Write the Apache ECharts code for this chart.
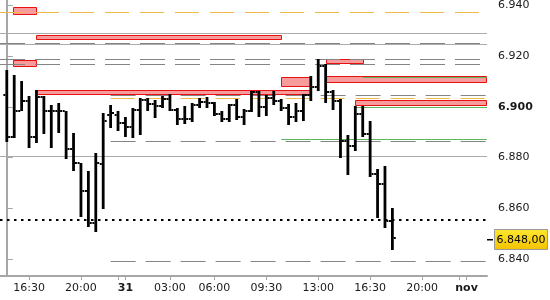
<!DOCTYPE html>
<html><head><meta charset="utf-8">
<script src="https://cdn.jsdelivr.net/npm/echarts@6/dist/echarts.min.js"></script>
<style>html,body{margin:0;padding:0;background:#fff}#c{width:550px;height:300px}</style>
</head><body><div id="c"></div>
<script>
// 30-minute bars
const times = ['15:00','15:30','16:00','16:30','17:00','17:30','18:00','18:30','19:00','19:30','20:00','20:30','21:00',
 '22:30','23:00','23:30','00:00','00:30','01:00','01:30','02:00','02:30','03:00','03:30','04:00','04:30','05:00','05:30',
 '06:00','06:30','07:00','07:30','08:00','08:30','09:00','09:30','10:00','10:30','11:00','11:30','12:00','12:30','13:00',
 '13:30','14:00','14:30','15:00','15:30','16:00','16:30','17:00','17:30','18:00'];
const open  = [6.9046,6.8882,6.8983,6.9023,6.8881,6.9039,6.8983,6.8983,6.8983,6.8833,6.8777,6.8669,6.8542,6.8774,6.8967,6.8970,6.8938,6.8921,6.8989,6.9026,6.9013,6.9004,6.9033,6.8989,6.8954,6.8951,6.9006,6.9019,6.9015,6.8971,6.8954,6.9006,6.8960,6.8983,6.9059,6.9000,6.9037,6.9023,6.8997,6.8960,6.8983,6.9048,6.9078,6.9161,6.9059,6.9023,6.8866,6.8846,6.8971,6.8892,6.8737,6.8694,6.8551];
const high  = [6.9144,6.9124,6.9101,6.9042,6.9065,6.9042,6.9006,6.9015,6.8983,6.8896,6.8779,6.8748,6.8817,6.8976,6.9006,6.8983,6.8960,6.8997,6.9037,6.9037,6.9026,6.9042,6.9052,6.8997,6.9002,6.9015,6.9037,6.9039,6.9019,6.8983,6.9013,6.9033,6.8993,6.9061,6.9061,6.9046,6.9061,6.9033,6.9013,6.9015,6.9052,6.9121,6.9190,6.9171,6.9065,6.9033,6.8888,6.9002,6.9002,6.8943,6.8757,6.8766,6.8600];
const low   = [6.8862,6.8878,6.8983,6.8838,6.8858,6.8892,6.8838,6.8897,6.8794,6.8748,6.8567,6.8525,6.8508,6.8596,6.8915,6.8905,6.8881,6.8878,6.8891,6.8984,6.8956,6.8997,6.8984,6.8930,6.8934,6.8941,6.8997,6.8997,6.8964,6.8941,6.8941,6.8947,6.8928,6.8980,6.8960,6.8964,6.9006,6.8984,6.8928,6.8941,6.8945,6.9023,6.9063,6.9017,6.8987,6.8800,6.8731,6.8826,6.8881,6.8724,6.8560,6.8523,6.8435];
const close = [6.8881,6.8983,6.9023,6.8881,6.9039,6.8983,6.8983,6.8983,6.8833,6.8777,6.8669,6.8542,6.8777,6.8945,6.8974,6.8938,6.8921,6.8989,6.9026,6.9013,6.9004,6.9033,6.8989,6.8954,6.8951,6.9006,6.9019,6.9015,6.8971,6.8954,6.9006,6.8960,6.8983,6.9059,6.9000,6.9037,6.9023,6.8997,6.8960,6.8983,6.9048,6.9078,6.9161,6.9059,6.9023,6.8866,6.8846,6.8971,6.8892,6.8737,6.8694,6.8551,6.8482];
const lastPrice = 6.848;
const lastPriceText = '6.848,00';

// x tick labels (bar index -> label)
const tickPos    = [3, 10, 16, 22, 28, 35, 42, 49, 56, 62];
const tickLabels = ['16:30','20:00','31','03:00','06:00','09:30','13:00','16:30','20:00','nov'];
const boldTicks  = ['31','nov'];
const extraTickPos = [15, 61];
const yTicks = [6.84, 6.86, 6.88, 6.90, 6.92, 6.94];

// levels: [fromIndex, toIndex, price]; 99 = to right edge, -9 = from left edge
const grayDashLevels   = [[-9,99,6.9254],[-9,99,6.9190],[-9,99,6.9171],[14,99,6.9045],[14,99,6.8864],[14,99,6.8392]];
const orangeDashLevels = [[-9,99,6.9376],[14,99,6.9034]];
const graySolidLevels  = [[-9,99,6.9292],[-9,99,6.9250],[-9,99,6.8805]];
const greenLevels      = [[48,99,6.9116],[47,99,6.8998],[37,99,6.8875]];
const dottedLevels     = [[-9,99,6.8553]];
// zones: [fromIndex, toIndex, top, bottom]
const zones = [[0.85,4.07,6.9393,6.9367],[4,37.1,6.9282,6.9269],[0.85,4.07,6.9185,6.9161],
  [43,48.17,6.9190,6.9173],[43,99,6.9121,6.9098],[37,41.16,6.9116,6.9082],[4,41.16,6.9068,6.9051],[47,99,6.9026,6.9006]];

const XMIN = -0.917, XMAX = 64.76, YMIN = 6.8333, YMAX = 6.94197;
const FONT = 'DejaVu Sans';

function clampX(px, cs){ return Math.max(cs.x, Math.min(cs.x + cs.width, px)); }

function lineSeries(data, style){
  return {
    type:'custom', data: data, silent:true, z: 3,
    renderItem: function(params, api){
      const cs = params.coordSys;
      const a = api.coord([api.value(0), api.value(2)]);
      const b = api.coord([api.value(1), api.value(2)]);
      const y = Math.round(a[1]) + (style.lineWidth % 2 ? 0.5 : 0);
      return {type:'line', shape:{x1:clampX(a[0],cs), y1:y, x2:clampX(b[0],cs), y2:y}, style: Object.assign({fill:null}, style)};
    }
  };
}

const zoneSeries = {
  type:'custom', data: zones, silent:true, z: 2,
  renderItem: function(params, api){
    const cs = params.coordSys;
    const a = api.coord([api.value(0), api.value(2)]);
    const b = api.coord([api.value(1), api.value(3)]);
    const x1 = Math.round(clampX(a[0],cs)) + 0.5, x2 = Math.round(clampX(b[0],cs)) - 0.5;
    const y1 = Math.round(a[1]) + 0.5, y2 = Math.round(b[1]) + 0.5;
    return {type:'rect', shape:{x:x1, y:y1, width:x2-x1, height:Math.max(2,y2-y1)},
      style:{fill:'#f79c9c', stroke:'#e81010', lineWidth:1}};
  }
};

const ohlcData = open.map((o,i)=>[i, o, high[i], low[i], close[i]]);
const ohlcSeries = {
  type:'custom', data: ohlcData, z: 5, silent:true,
  encode:{x:0, y:[1,2,3,4]},
  renderItem: function(params, api){
    const x = api.value(0);
    const pO = api.coord([x, api.value(1)]);
    const pH = api.coord([x, api.value(2)]);
    const pL = api.coord([x, api.value(3)]);
    const pC = api.coord([x, api.value(4)]);
    const cx = pH[0];
    const st = {fill:'#000'};
    return {type:'group', children:[
      {type:'rect', shape:{x:cx-1.4, y:Math.round(pH[1]), width:2.8, height:Math.max(2, Math.round(pL[1])-Math.round(pH[1]))}, style:st},
      {type:'rect', shape:{x:cx-3.4, y:Math.round(pO[1])-1, width:2, height:2}, style:st},
      {type:'rect', shape:{x:cx+1.4, y:Math.round(pC[1])-1, width:2, height:2}, style:st}
    ]};
  }
};

const priceLabelSeries = {
  type:'custom', data:[[XMAX, lastPrice]], z: 10, silent:true, clip:false,
  renderItem: function(params, api){
    const p = api.coord([api.value(0), api.value(1)]);
    const x = Math.round(p[0]), y = Math.round(p[1]);
    return {type:'group', children:[
      {type:'rect', shape:{x:x, y:y, width:6, height:1.5}, style:{fill:'#000'}},
      {type:'rect', shape:{x:x+7.5, y:y-9.5, width:53, height:20},
        style:{fill:new echarts.graphic.LinearGradient(0,0,0,1,[{offset:0,color:'#ffe830'},{offset:1,color:'#f2c200'}]), stroke:'#9a9a9a', lineWidth:1}},
      {type:'text', x:x+34, y:y+1, style:{text:lastPriceText, fill:'#000', font:'11px "'+FONT+'"', align:'center', verticalAlign:'middle'}}
    ]};
  }
};

const chart = echarts.init(document.getElementById('c'), null, {renderer:'canvas'});
chart.setOption({
  animation:false,
  backgroundColor:'#fff',
  grid:{left:0, right:63, top:0, bottom:24, containLabel:false},
  xAxis:{
    type:'value', min:XMIN, max:XMAX,
    splitLine:{show:false},
    axisLine:{show:true, lineStyle:{color:'#a6a6a6', width:2}},
    axisTick:{show:true, length:4, lineStyle:{color:'#a6a6a6'}, customValues: tickPos.concat(extraTickPos)},
    axisLabel:{
      customValues: tickPos, margin:7,
      fontFamily:FONT, fontSize:11, color:'#1a1a1a',
      formatter: function(v){
        const k = tickPos.indexOf(Math.round(v));
        const t = k >= 0 ? tickLabels[k] : '';
        return boldTicks.indexOf(t) >= 0 ? '{b|'+t+'}' : t;
      },
      rich:{b:{fontWeight:'bold', fontFamily:FONT, fontSize:11, color:'#1a1a1a'}}
    }
  },
  yAxis:{
    type:'value', position:'right', min:YMIN, max:YMAX, scale:true,
    splitLine:{show:false},
    axisLine:{show:true, lineStyle:{color:'#a6a6a6', width:2}},
    axisTick:{show:true, length:6, lineStyle:{color:'#a6a6a6'}, customValues: yTicks},
    axisLabel:{
      customValues: yTicks, margin:11,
      fontFamily:FONT, fontSize:11, color:'#1a1a1a',
      formatter: function(v){
        const s = v.toFixed(3);
        return Math.abs(v-6.9) < 1e-6 ? '{b|'+s+'}' : s;
      },
      rich:{b:{fontWeight:'bold', fontFamily:FONT, fontSize:11, color:'#1a1a1a'}}
    }
  },
  series:[
    zoneSeries,
    lineSeries(graySolidLevels, {stroke:'#ababab', lineWidth:1}),
    lineSeries(grayDashLevels, {stroke:'#858585', lineWidth:1, lineDash:[25,10]}),
    lineSeries(orangeDashLevels, {stroke:'#f0b848', lineWidth:1, lineDash:[24,11]}),
    lineSeries(greenLevels, {stroke:'#5cb85c', lineWidth:1}),
    lineSeries(dottedLevels, {stroke:'#000', lineWidth:2, lineDash:[2.5,4.5]}),
    ohlcSeries,
    priceLabelSeries
  ]
});
</script>
</body></html>
